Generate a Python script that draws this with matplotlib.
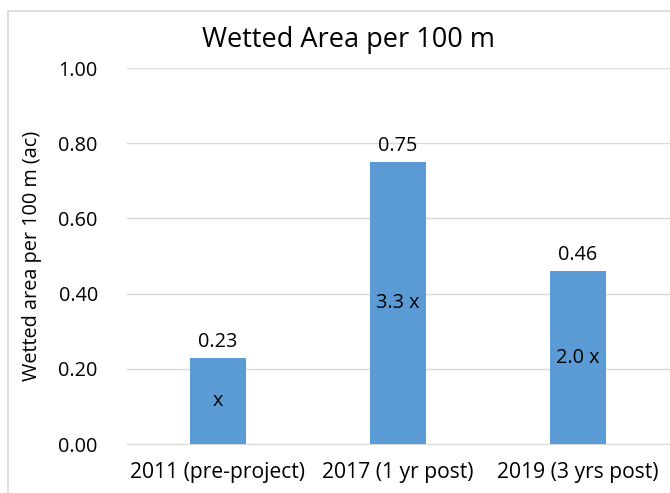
import matplotlib
matplotlib.use("Agg")
import matplotlib.pyplot as plt
from matplotlib.patches import Rectangle

categories = ["2011 (pre-project)", "2017 (1 yr post)", "2019 (3 yrs post)"]
values = [0.23, 0.75, 0.46]
inner_labels = ["x", "3.3 x", "2.0 x"]
yticks = [0.0, 0.2, 0.4, 0.6, 0.8, 1.0]

plt.rcParams['font.family'] = ['Open Sans', 'DejaVu Sans']

W, H = 670, 493
fig = plt.figure(figsize=(W/100, H/100), dpi=100)
fig.patch.set_facecolor('white')

# outer chart border (cropped on the right)
fig.patches.append(Rectangle((8/W, -0.05), 1.2, (H-11)/H + 0.05, transform=fig.transFigure,
                             fill=False, edgecolor='#d9d9d9', linewidth=1.2))

ax = fig.add_axes([127/W, (H-444)/H, 1 - 127/W, (444-68)/H])
x = list(range(len(categories)))
bars = ax.bar(x, values, width=0.31, color='#5B9BD5', zorder=3)
ax.set_xlim((127-218)/180, (670-218)/180)
ax.set_ylim(0, 1.0)
ax.set_yticks(yticks)
ax.set_yticklabels([f"{v:.2f}" for v in yticks])
ax.set_xticks(x)
ax.set_xticklabels(categories)
ax.tick_params(axis='both', length=0, colors='black')
ax.tick_params(axis='y', pad=21, labelsize=14.3)
ax.tick_params(axis='x', pad=13, labelsize=15.2)
ax.grid(axis='y', color='#d9d9d9', linewidth=1, zorder=0)
for s in ax.spines.values():
    s.set_visible(False)
ax.spines['bottom'].set_visible(True)
ax.spines['bottom'].set_color('#d9d9d9')

ax.bar_label(bars, labels=[f"{v:.2f}" for v in values], padding=4, fontsize=14.3)
ax.bar_label(bars, labels=inner_labels, label_type='center', fontsize=14.3)

ax.set_ylabel("Wetted area per 100 m (ac)", fontsize=14.3, labelpad=12)
fig.text(348/W, 1 - 40/H, "Wetted Area per 100 m", ha='center', va='center', fontsize=19.5)
ax.patch.set_alpha(0)

fig.savefig("out.png", dpi=100)
